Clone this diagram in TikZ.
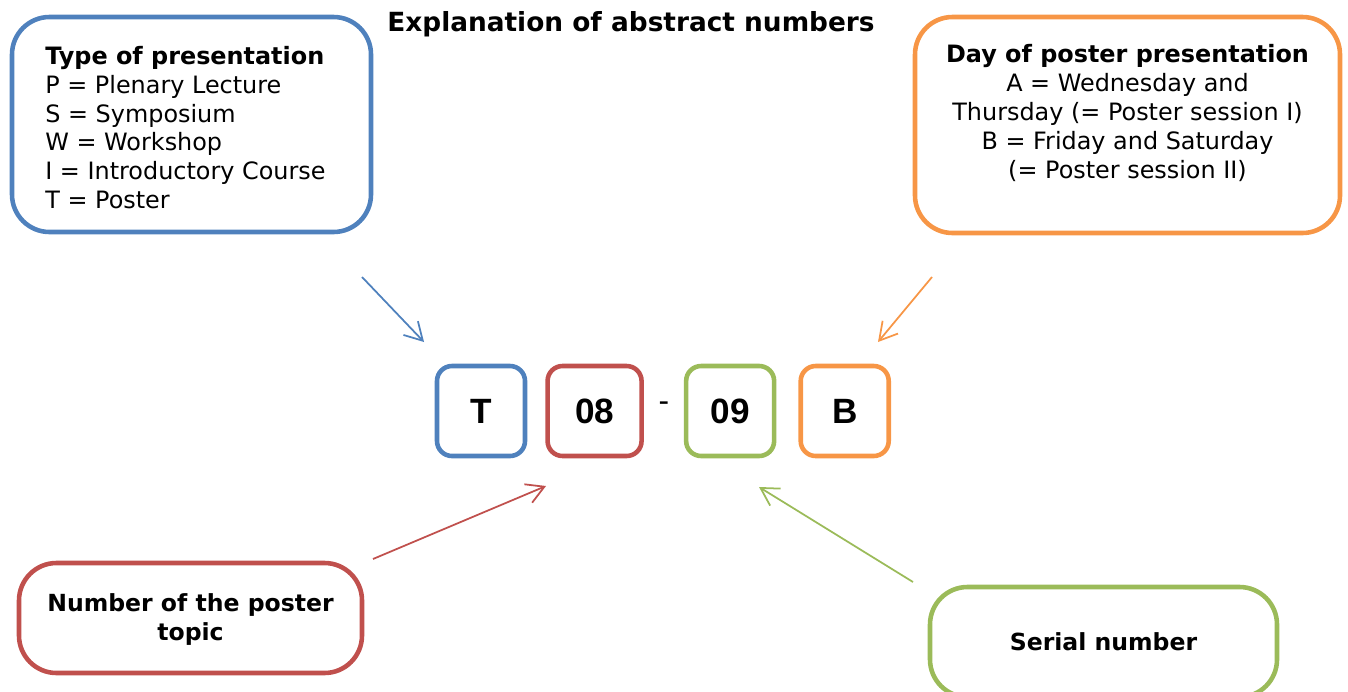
\documentclass[tikz,border=0pt]{standalone}
\usepackage{fontspec}
\setmainfont{DejaVu Sans}
\newfontfamily\codefont{Liberation Sans}
\usepackage{tikz}
\usetikzlibrary{positioning, arrows.meta, calc}
\definecolor{TypeBlue}{HTML}{4F81BD}
\definecolor{TopicRed}{HTML}{C0504D}
\definecolor{SerialGreen}{HTML}{9BBB59}
\definecolor{DayOrange}{HTML}{F79646}

\begin{document}
\begin{tikzpicture}[
    panel/.style={draw, line width=2.6pt, rounded corners=0.75cm},
    codebox/.style={draw, line width=2.6pt, rounded corners=0.3cm, minimum width=1.76cm, minimum height=1.8cm, inner sep=0pt, font=\codefont\fontsize{20}{22}\selectfont\bfseries},
    body/.style={font=\fontsize{13.6}{16.4}\selectfont, inner sep=0pt},
    heading/.style={font=\fontsize{13.4}{16.4}\selectfont\bfseries, inner sep=0pt, align=center},
    pointer/.style={line width=1pt, -{Straight Barb[length=3.5mm, width=4mm]}}
]

\useasboundingbox (0,0) rectangle (26.96,-13.82);

% Title
\node[heading, font=\fontsize{15}{18}\selectfont\bfseries] (title) at (12.62,-0.48) {Explanation of abstract numbers};

% Type of presentation
\node[panel, draw=TypeBlue, minimum width=7.18cm, minimum height=4.3cm] (type) at (3.83,-2.49) {};
\node[body, align=left, anchor=west] (typetext) at (0.9,-2.55) {\textbf{Type of presentation}\\P = Plenary Lecture\\S = Symposium\\W = Workshop\\I = Introductory Course\\T = Poster};

% Day of poster presentation
\node[panel, draw=DayOrange, minimum width=8.5cm, minimum height=4.32cm] (day) at (22.55,-2.5) {};
\node[body, align=center] (daytext) at (22.55,-2.26) {\textbf{Day of poster presentation}\\A = Wednesday and\\Thursday (= Poster session I)\\B = Friday and Saturday\\(= Poster session II)};

% Number of the poster topic
\node[panel, draw=TopicRed, minimum width=6.86cm, minimum height=2.2cm] (topic) at (3.81,-12.36) {};
\node[heading] (topictext) at (3.81,-12.39) {Number of the poster\\topic};

% Serial number
\node[panel, draw=SerialGreen, minimum width=6.94cm, minimum height=2.2cm] (serial) at (22.07,-12.84) {};
\node[heading] (serialtext) at (22.07,-12.84) {Serial number};

% Abstract number
\node[codebox, draw=TypeBlue] (tbox) at (9.62,-8.22) {T};
\node[codebox, draw=TopicRed, minimum width=1.88cm, right=0.36cm of tbox] (topicbox) {08};
\node[codebox, draw=SerialGreen, right=0.8cm of topicbox] (serialbox) {09};
\node[codebox, draw=DayOrange, right=0.44cm of serialbox] (daybox) {B};
\node[font=\codefont\fontsize{18}{20}\selectfont, inner sep=0pt, yshift=0.09cm] (dash) at ($(topicbox.east)!0.5!(serialbox.west)$) {-};

% Pointers
\coordinate (typefrom) at (7.24,-5.54);
\coordinate (typeto) at (8.48,-6.84);
\coordinate (dayfrom) at (18.64,-5.54);
\coordinate (dayto) at (17.56,-6.84);
\coordinate (topicfrom) at (7.46,-11.18);
\coordinate (topicto) at (10.92,-9.72);
\coordinate (serialfrom) at (18.26,-11.64);
\coordinate (serialto) at (15.18,-9.74);

\draw[pointer, TypeBlue] (typefrom) -- (typeto);
\draw[pointer, DayOrange] (dayfrom) -- (dayto);
\draw[pointer, TopicRed] (topicfrom) -- (topicto);
\draw[pointer, SerialGreen] (serialfrom) -- (serialto);

\end{tikzpicture}
\end{document}
